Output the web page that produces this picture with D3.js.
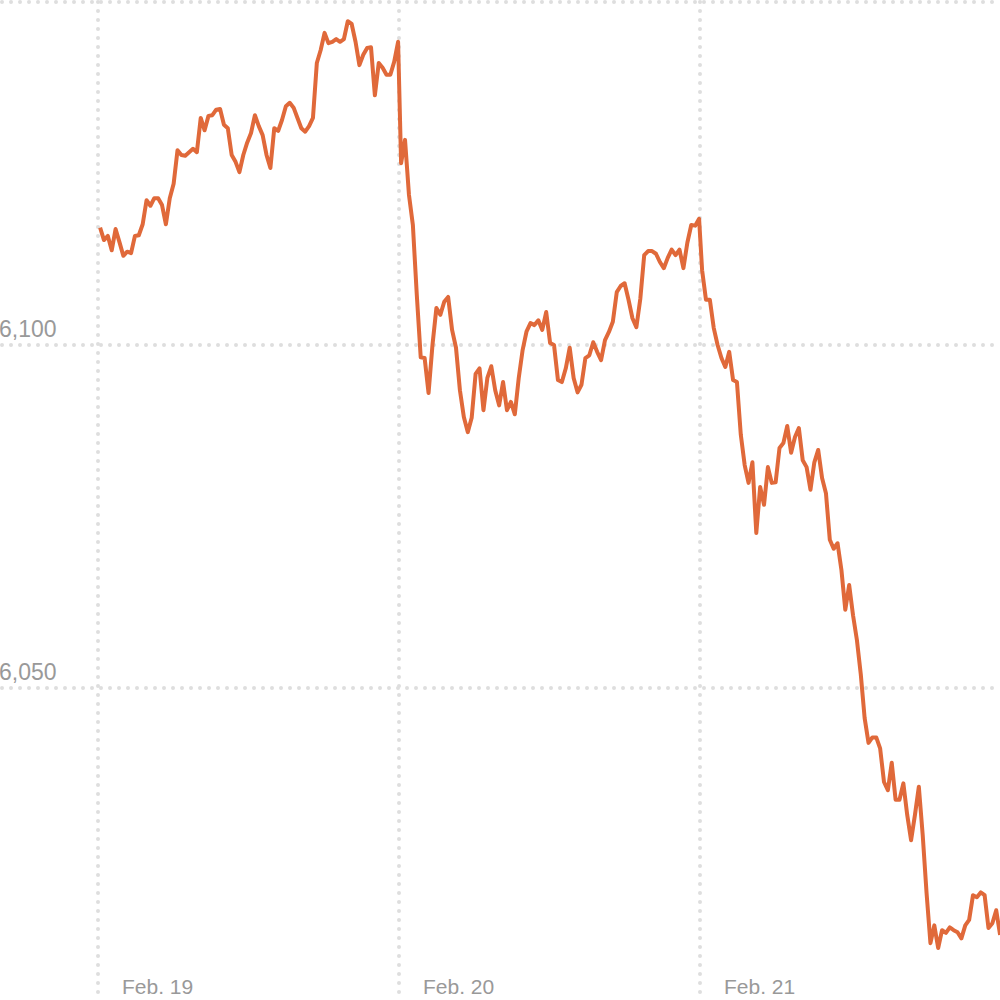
<!DOCTYPE html>
<html><head><meta charset="utf-8">
<script src="https://cdn.jsdelivr.net/npm/d3@7"></script>
<style>body{margin:0;background:#fff}svg{display:block}</style>
</head><body>
<script>
const dayLabels = ["Feb. 19","Feb. 20","Feb. 21"];
const yTicks = [6050, 6100, 6150];
const yTickLabels = ["6,050","6,100",""];
const day1 = [6117.1,6115.3,6115.9,6113.8,6116.9,6115.0,6113.0,6113.6,6113.4,6115.9,6116.0,6117.6,6121.1,6120.3,6121.4,6121.4,6120.4,6117.6,6121.4,6123.5,6128.4,6127.7,6127.6,6128.1,6128.6,6128.1,6133.1,6131.3,6133.4,6133.5,6134.3,6134.4,6132.1,6131.6,6127.7,6126.7,6125.2,6127.7,6129.5,6130.9,6133.5,6131.9,6130.6,6127.7,6125.8,6131.6,6131.2,6132.8,6134.8,6135.3,6134.6,6133.1,6131.6,6131.1,6131.9,6133.1,6141.1,6143.0,6145.5,6144.0,6144.2,6144.6,6144.2,6144.6,6147.2,6146.8,6144.2,6140.8,6142.3,6143.3,6143.4,6136.4,6141.1,6140.4,6139.4,6139.4,6141.3,6144.2];
const day2 = [6126.5,6129.9,6121.9,6117.5,6107.3,6098.2,6098.1,6093.0,6100.0,6105.4,6104.4,6106.3,6107.0,6102.2,6099.6,6093.4,6089.5,6087.3,6089.4,6095.8,6096.6,6090.5,6095.2,6096.9,6093.4,6091.2,6094.6,6090.5,6091.7,6089.9,6095.2,6099.3,6102.0,6103.2,6102.9,6103.6,6102.2,6104.8,6100.3,6100.0,6094.9,6094.6,6096.6,6099.6,6095.2,6093.1,6094.2,6098.1,6098.5,6100.4,6099.0,6097.8,6100.7,6101.9,6103.4,6107.7,6108.6,6109.0,6106.6,6103.9,6102.6,6106.7,6113.1,6113.7,6113.7,6113.3,6112.1,6111.2,6112.7,6113.9,6113.1,6113.9,6111.2,6114.9,6117.5,6117.4,6118.4];
const day3 = [6110.9,6106.6,6106.6,6102.5,6100.0,6098.1,6096.8,6099.0,6094.9,6094.6,6086.9,6082.5,6079.9,6082.9,6072.6,6079.3,6076.7,6082.2,6079.9,6080.0,6085.0,6085.7,6088.2,6084.3,6086.6,6087.9,6083.2,6082.2,6078.9,6082.9,6084.7,6080.6,6078.4,6071.6,6070.3,6071.1,6067.2,6061.4,6065.0,6060.6,6057.0,6052.0,6045.6,6042.0,6042.8,6042.8,6041.2,6036.3,6035.1,6039.1,6033.7,6033.7,6036.1,6031.5,6027.8,6031.5,6035.6,6028.6,6020.1,6012.8,6015.4,6012.1,6014.7,6014.3,6015.1,6014.7,6014.4,6013.5,6015.4,6016.2,6019.8,6019.5,6020.2,6019.8,6015.0,6015.7,6017.6,6014.0];

const W=1000,H=1000;
const svg=d3.select("body").append("svg").attr("width",W).attr("height",H);
const x=d3.scaleLinear().domain([0,3]).range([98,1001]);
const y=d3.scaleLinear().domain([6050,6100]).range([688,345]);
const grid={stroke:"#dedede","stroke-width":4,"stroke-dasharray":"0,9","stroke-linecap":"round"};
const g=svg.append("g");
yTicks.forEach((v,i)=>{
  const l=g.append("line").attr("x1",2).attr("x2",W).attr("y1",y(v)).attr("y2",y(v));
  Object.entries(grid).forEach(([k,val])=>l.attr(k,val));
  if(yTickLabels[i]) svg.append("text").attr("x",-1).attr("y",y(v)-8).attr("font-family","Liberation Sans, Arial, sans-serif")
    .attr("font-size",23).attr("fill","#999").text(yTickLabels[i]);
});
dayLabels.forEach((d,i)=>{
  const l=g.append("line").attr("x1",x(i)).attr("x2",x(i)).attr("y1",2).attr("y2",H);
  Object.entries(grid).forEach(([k,val])=>l.attr(k,val));
  svg.append("text").attr("x",x(i)+24).attr("y",994).attr("font-family","Liberation Sans, Arial, sans-serif")
    .attr("font-size",21).attr("fill","#999").text(d);
});
const pts=[];
[day1,day2,day3].forEach((arr,d)=>arr.forEach((v,i)=>pts.push([d+0.007+i/(arr.length-1)*0.99,v])));
svg.append("path").datum(pts).attr("fill","none").attr("stroke","#e0693a").attr("stroke-width",4)
  .attr("stroke-linejoin","round")
  .attr("d",d3.line().x(p=>x(p[0])).y(p=>y(p[1])));
</script>
</body></html>
